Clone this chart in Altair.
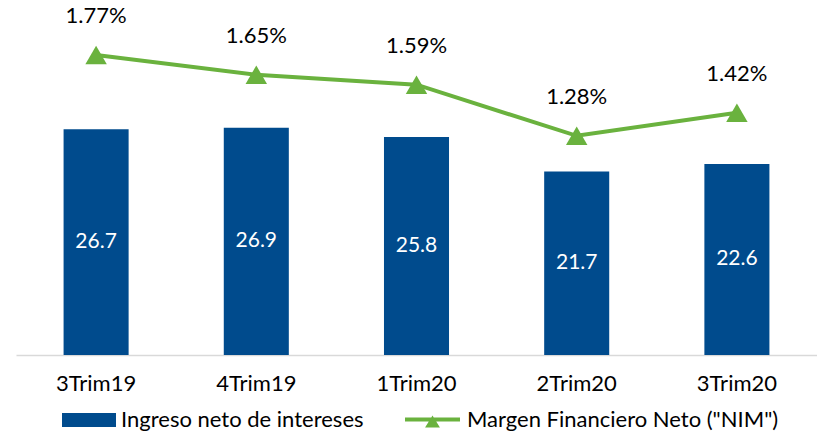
import altair as alt
import pandas as pd

# Quarterly figures
trimestres = ["3Trim19", "4Trim19", "1Trim20", "2Trim20", "3Trim20"]
ingreso = [26.7, 26.9, 25.8, 21.7, 22.6]
nim = [1.77, 1.65, 1.59, 1.28, 1.42]

serie_barra = "Ingreso neto de intereses"
serie_linea = 'Margen Financiero Neto ("NIM")'

AZUL = "#004B8D"
VERDE = "#6AB23E"
FUENTE = "Lato"

df = pd.DataFrame({
    "trim": trimestres,
    "ingreso": ingreso,
    "nim": nim,
    "s_barra": serie_barra,
    "s_linea": serie_linea,
})

x = alt.X("trim:N", sort=trimestres, title=None,
          scale=alt.Scale(paddingInner=0.594, paddingOuter=0.297),
          axis=alt.Axis(labelAngle=0, ticks=False, domainColor="#D9D9D9",
                        domainWidth=1.5, labelFontSize=22, labelFont=FUENTE,
                        labelColor="#000000", labelPadding=18))

y_barra = alt.Y("ingreso:Q", scale=alt.Scale(domain=[0, 42]), axis=None, title=None)
y_linea = alt.Y("nim:Q", scale=alt.Scale(domain=[-0.048, 2.103]), axis=None, title=None)

base = alt.Chart(df)

barras = base.mark_bar(color=AZUL).encode(
    x=x,
    y=y_barra,
    color=alt.Color("s_barra:N", scale=alt.Scale(range=[AZUL]), title=None,
                    legend=alt.Legend(orient="none", legendX=46, legendY=393,
                                      symbolType="M-1,-0.26H1V0.26H-1Z",
                                      symbolSize=2916, symbolStrokeWidth=0,
                                      labelFontSize=22, labelFont=FUENTE,
                                      labelColor="#000000", labelOffset=5,
                                      labelLimit=400, padding=0)),
)

etiquetas_barra = base.transform_calculate(mitad="datum.ingreso / 2").mark_text(
    color="white", fontSize=21, font=FUENTE, baseline="middle"
).encode(
    x=x,
    y=alt.Y("mitad:Q", scale=alt.Scale(domain=[0, 42]), axis=None, title=None),
    text=alt.Text("ingreso:Q", format=".1f"),
)

linea = base.mark_line(color=VERDE, strokeWidth=4).encode(x=x, y=y_linea)

puntos = base.mark_point(shape="triangle-up", filled=True, size=460, opacity=1).encode(
    x=x,
    y=y_linea,
    color=alt.Color("s_linea:N", scale=alt.Scale(range=[VERDE]), title=None,
                    legend=alt.Legend(orient="none", legendX=389, legendY=392,
                                      symbolType="M-1,-0.073H1V0.073H-1Z M-0.27,0.29L0,-0.145L0.27,0.29Z",
                                      symbolSize=3025, symbolStrokeWidth=0,
                                      labelFontSize=22, labelFont=FUENTE,
                                      labelColor="#000000", labelOffset=7,
                                      labelLimit=400, padding=0)),
)

etiquetas_linea = base.transform_calculate(
    txt="format(datum.nim, '.2f') + '%'"
).mark_text(color="#000000", fontSize=22, font=FUENTE, baseline="alphabetic", dy=-32).encode(
    x=x,
    y=y_linea,
    text="txt:N",
)

chart = alt.layer(barras, etiquetas_barra, linea, puntos, etiquetas_linea).resolve_scale(
    y="independent", color="independent"
).properties(
    width=801, height=355,
    padding={"left": 16, "top": 0, "right": 0, "bottom": 78},
    autosize=alt.AutoSizeParams(type="none"),
    background="white",
).configure_view(stroke=None)

chart.save("out.html", embed_options={"renderer": "svg", "actions": False})
